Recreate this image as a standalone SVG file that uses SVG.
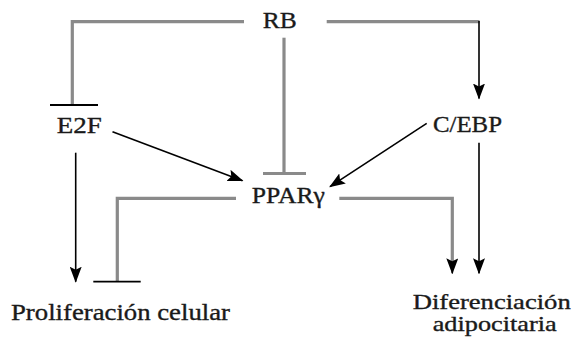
<svg xmlns="http://www.w3.org/2000/svg" width="575" height="342" viewBox="0 0 575 342">
  <style>
    text { font-family: 'Liberation Serif', 'Times New Roman', serif; }
    .lbl { font-size: 23px; fill: #1a1a1a; stroke: #1a1a1a; stroke-width: 0.35; text-anchor: middle; }
    .sm { font-size: 21px; }
    .inh { fill: none; stroke: #8a8a8a; stroke-width: 3.2; }
    .act { fill: none; stroke: #000; stroke-width: 1.6; }
    .bar { stroke: #000; stroke-width: 1.8; }
    .barg { stroke: #8a8a8a; stroke-width: 3.2; }
  </style>
  <defs>
    <marker id="arrow" markerUnits="userSpaceOnUse" viewBox="0 0 16 12" refX="15" refY="6" markerWidth="16" markerHeight="12" orient="auto">
      <path d="M0,0 L16,6 L0,12 L3,6 z" fill="#000"/>
    </marker>
  </defs>
  <rect width="575" height="342" fill="#fff"/>

  <!-- connectors -->
  <g id="connectors">
    <!-- RB inhibits E2F -->
    <polyline class="inh" points="244,21.7 72.3,21.7 72.3,105"/>
    <line class="bar" x1="50" y1="105" x2="98" y2="105"/>
    <!-- RB inhibits PPARγ -->
    <line class="inh" x1="284" y1="37.7" x2="284" y2="173.5"/>
    <line class="barg" x1="263" y1="173.5" x2="306" y2="173.5"/>
    <!-- RB activates C/EBP -->
    <polyline class="inh" points="326.7,21.7 479.5,21.7"/>
    <line class="act" x1="479" y1="21" x2="479" y2="98.5" marker-end="url(#arrow)"/>
    <!-- E2F activates PPARγ -->
    <line class="act" x1="112.5" y1="131.7" x2="242.5" y2="180.7" marker-end="url(#arrow)"/>
    <!-- C/EBP activates PPARγ -->
    <line class="act" x1="426.7" y1="123.3" x2="330" y2="186.7" marker-end="url(#arrow)"/>
    <!-- E2F to proliferación -->
    <line class="act" x1="75.7" y1="152.7" x2="75.7" y2="281.7" marker-end="url(#arrow)"/>
    <!-- PPARγ inhibits proliferación -->
    <polyline class="inh" points="236,198.3 117.3,198.3 117.3,281.7"/>
    <line class="bar" x1="93.3" y1="281.7" x2="140.7" y2="281.7"/>
    <!-- PPARγ activates diferenciación -->
    <polyline class="inh" points="339.3,198.3 452.3,198.3 452.3,262"/>
    <line class="act" x1="452.3" y1="262" x2="452.3" y2="273.3" marker-end="url(#arrow)"/>
    <!-- C/EBP activates diferenciación -->
    <line class="act" x1="479" y1="142.7" x2="479" y2="273.3" marker-end="url(#arrow)"/>
  </g>

  <g id="node-rb">
    <text class="lbl" x="279.7" y="27.5" textLength="34" lengthAdjust="spacingAndGlyphs">RB</text>
  </g>
  <g id="node-e2f">
    <text class="lbl" x="79.2" y="133.3" textLength="45" lengthAdjust="spacingAndGlyphs">E2F</text>
  </g>
  <g id="node-cebp">
    <text class="lbl" x="467.5" y="132" textLength="69" lengthAdjust="spacingAndGlyphs">C/EBP</text>
  </g>
  <g id="node-ppar">
    <text class="lbl" x="288.3" y="203" textLength="73" lengthAdjust="spacingAndGlyphs">PPARγ</text>
  </g>
  <g id="node-proliferacion">
    <text class="lbl" x="120.5" y="320" textLength="219" lengthAdjust="spacingAndGlyphs">Proliferación celular</text>
  </g>
  <g id="node-diferenciacion">
    <text class="lbl sm" x="491.7" y="308.5" textLength="158" lengthAdjust="spacingAndGlyphs">Diferenciación</text>
    <text class="lbl sm" x="494.7" y="331" textLength="124" lengthAdjust="spacingAndGlyphs">adipocitaria</text>
  </g>
</svg>
